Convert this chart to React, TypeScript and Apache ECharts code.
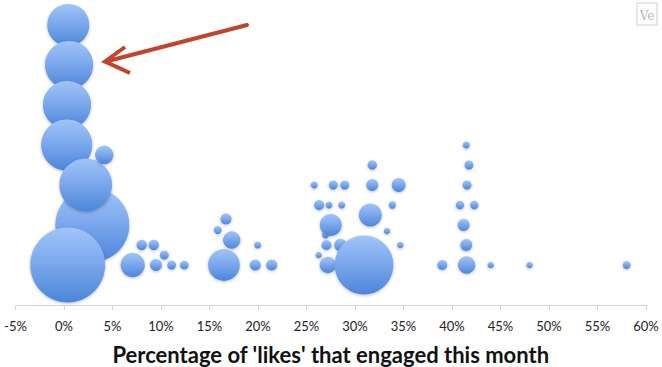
import React, { useEffect, useRef } from "react";
import * as echarts from "echarts";

// x: percentage of 'likes' that engaged this month
const xValues: number[] = [
  2.92, 0.44, 0.52, 0.31, 0.28, 2.24, 4.15, 0.38,
  7.08, 8.01, 9.25, 10.34, 9.48, 11.1, 12.4,
  16.7, 15.85, 17.29, 16.49, 19.97, 19.72, 21.41,
  26.26, 26.96, 27.06, 27.2, 28.5, 27.5, 25.8, 26.3, 27.32, 27.76, 28.63, 28.94,
  30.93, 31.58, 31.78, 31.78, 33.3, 33.85, 34.5, 34.67,
  39.0, 41.51, 41.47, 41.2, 40.82, 42.3, 41.55, 41.75, 41.47, 43.99, 48.0, 58.0,
];
// y: stacking row of the bubble
const yValues: number[] = [
  3, 13, 11, 9, 7, 5, 6.5, 1,
  1, 2, 2, 1.5, 1, 1, 1,
  3.3, 2.75, 2.25, 1, 2, 1, 1,
  1.5, 2.5, 2, 1, 2, 3, 5, 4, 4, 5, 4, 5,
  1, 3.5, 5, 6, 2.7, 4, 5, 2,
  1, 1, 2, 3, 4, 4, 5, 6, 7, 1, 1, 1,
];
// bubble size value
const sizeValues: number[] = [
  130, 42, 55, 55, 62, 66, 8, 133,
  14, 2.6, 2.6, 1.9, 3.4, 1.9, 1.8,
  2.9, 1.5, 7.2, 24, 1.2, 2.9, 2.9,
  1, 1.2, 2.4, 6.4, 3.7, 11.5, 1.2, 2.4, 1.2, 1.9, 1.2, 1.9,
  82, 12.5, 3.4, 2.1, 1, 1.3, 4.6, 1,
  2.4, 7.2, 3.4, 3.4, 1.7, 1.7, 1.9, 1.9, 1.2, 1, 1, 1.5,
];

const xAxisTitle = "Percentage of 'likes' that engaged this month";

export default function App() {
  const ref = useRef<HTMLDivElement>(null);

  useEffect(() => {
    if (!ref.current) return;
    const chart = echarts.init(ref.current, null, { renderer: "svg" });
    const data = xValues.map((x, i) => [x, yValues[i], sizeValues[i]]);

    chart.setOption({
      animation: false,
      backgroundColor: "#ffffff",
      grid: {
        left: 15.5,
        right: 16,
        top: 5,
        bottom: 62,
        outerBoundsMode: "none",
      },
      xAxis: {
        type: "value",
        min: -5,
        max: 60,
        interval: 5,
        splitLine: { show: false },
        axisLine: { show: true, onZero: false, lineStyle: { color: "#d4d4d4", width: 1 } },
        axisTick: { show: true, length: 5, lineStyle: { color: "#d4d4d4" } },
        axisLabel: {
          formatter: "{value}%",
          color: "#222",
          fontSize: 13,
          fontFamily: "Lato",
          margin: 14,
        },
        name: xAxisTitle,
        nameLocation: "middle",
        nameGap: 49,
        nameMoveOverlap: false,
        nameTextStyle: {
          color: "#111",
          fontSize: 22,
          fontWeight: "bold",
          fontFamily: "Lato",
          verticalAlign: "middle",
          lineHeight: 22,
        },
      },
      yAxis: {
        type: "value",
        min: -1,
        max: 14,
        show: false,
      },
      series: [
        {
          type: "scatter",
          data,
          symbol: "circle",
          symbolSize: (v: number[]) => 6.5 * Math.sqrt(v[2]),
          itemStyle: {
            opacity: 1,
            color: new echarts.graphic.LinearGradient(0, 0, 0, 1, [
              { offset: 0, color: "#a0c4f8" },
              { offset: 0.5, color: "#79a6ec" },
              { offset: 1, color: "#4c86d9" },
            ]),
            shadowBlur: 3,
            shadowColor: "rgba(0,0,0,0.25)",
            shadowOffsetY: 1,
          },
          emphasis: { disabled: true },
        },
      ],
      graphic: [
        {
          type: "line",
          shape: { x1: 247, y1: 25, x2: 108, y2: 61 },
          style: { stroke: "#c4432b", lineWidth: 4, lineCap: "round" },
          z: 100,
        },
        {
          type: "polyline",
          shape: { points: [[125, 47], [105, 61.5], [130, 73]] },
          style: { stroke: "#c4432b", lineWidth: 4, fill: "none", lineJoin: "miter" },
          z: 100,
        },
        {
          type: "rect",
          shape: { x: 637, y: 3, width: 20, height: 22 },
          style: { stroke: "#cfcfcf", lineWidth: 1, fill: "#fff" },
          z: 100,
        },
        {
          type: "text",
          x: 647,
          y: 16,
          style: {
            text: "Ve",
            fontFamily: "DejaVu Serif",
            fontSize: 12,
            fill: "#b5b5b5",
            align: "center",
            verticalAlign: "middle",
          },
          z: 101,
        },
      ],
    });

    return () => chart.dispose();
  }, []);

  return (
    <div
      ref={ref}
      style={{ position: "fixed", left: 0, top: 0, width: 662, height: 367 }}
    />
  );
}
